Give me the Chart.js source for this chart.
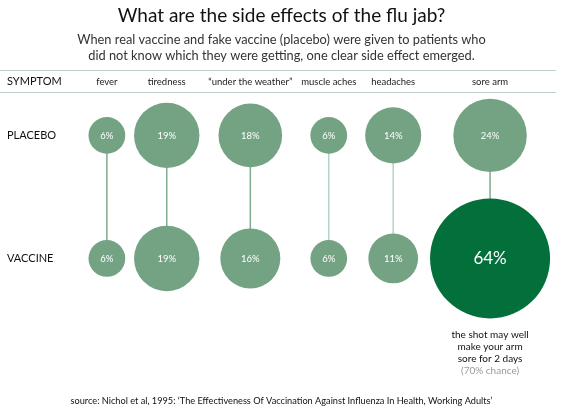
<!DOCTYPE html>
<html>
<head>
<meta charset="utf-8">
<script src="https://cdn.jsdelivr.net/npm/chart.js@4.4.0/dist/chart.umd.min.js"></script>
<style>
  html, body { margin: 0; padding: 0; background: #fff; }
  #wrap { width: 563px; height: 418px; }
</style>
</head>
<body>
<div id="wrap"><canvas id="chart-flu" width="563" height="418"></canvas></div>
<script>
var symptoms = ["fever", "tiredness", "\u201cunder the weather\u201d", "muscle aches", "headaches", "sore arm"];
var groups = ["PLACEBO", "VACCINE"];
var placeboPct = [6, 19, 18, 6, 14, 24];
var vaccinePct = [6, 19, 16, 6, 11, 64];
var noteLines = ["the shot may well", "make your arm", "sore for 2 days"];
var noteChance = "(70% chance)";
var sourceText = "source: Nichol et al, 1995: \u2018The Effectiveness Of Vaccination Against Influenza In Health, Working Adults\u2019";

var lightGreen = "#74a384";
var darkGreen = "#036f3b";
var font = "Lato";
var headFont = "9.5px " + font;

// bubble area grows with the percentage
function radius(v) {
    return 7.5 * Math.sqrt(v);
}

// columns packed side by side, each as wide as its biggest bubble or its label
var measure = document.createElement("canvas").getContext("2d");
measure.font = headFont;
var gap = 8.8;
var colX = [];
var edge = 6.7;
symptoms.forEach(function (s, i) {
    var r = Math.max(radius(placeboPct[i]), radius(vaccinePct[i]));
    var half = Math.max(r, measure.measureText(s).width / 2);
    colX.push(edge + gap + half);
    edge = colX[i] + half;
});

function rowValue(name) {
    return groups.length - 1 - groups.indexOf(name);
}

function bubbles(values, row) {
    return values.map(function (v, i) {
        return { x: colX[i], y: rowValue(row), r: radius(v), pct: v };
    });
}

var placeboData = bubbles(placeboPct, "PLACEBO");
var vaccineData = bubbles(vaccinePct, "VACCINE");

var datasets = [];
symptoms.forEach(function (s, i) {
    datasets.push({
        type: "line",
        data: [placeboData[i], vaccineData[i]],
        borderColor: (i == 3 || i == 4) ? "#b5d4c7" : "#7fab8e",
        borderWidth: 1.5,
        pointRadius: 0,
        fill: false,
        order: 2
    });
});
datasets.push({
    label: "placebo",
    data: placeboData,
    backgroundColor: lightGreen,
    borderWidth: 0,
    order: 1
});
datasets.push({
    label: "vaccine",
    data: vaccineData,
    backgroundColor: vaccineData.map(function (p, i) {
        return (p.pct - placeboPct[i] >= 20) ? darkGreen : lightGreen;
    }),
    borderWidth: 0,
    order: 1
});

var bubbleText = {
    id: "bubbleText",
    afterDatasetsDraw: function (chart) {
        var ctx = chart.ctx;
        ctx.save();
        ctx.fillStyle = "#fff";
        ctx.textAlign = "center";
        ctx.textBaseline = "middle";
        chart.data.datasets.forEach(function (ds, d) {
            if (ds.type == "line") return;
            chart.getDatasetMeta(d).data.forEach(function (el, i) {
                var p = ds.data[i];
                ctx.font = (p.r > 50 ? 17 : 9.5) + "px " + font;
                ctx.fillText(p.pct + "%", el.x, el.y + 0.5);
            });
        });
        ctx.restore();
    }
};

var extras = {
    id: "extras",
    afterDraw: function (chart) {
        var ctx = chart.ctx;
        var xs = chart.scales.x;
        ctx.save();
        // rules above and below the symptom header
        ctx.strokeStyle = "#bccfc4";
        ctx.lineWidth = 1;
        [xs.top, xs.bottom].forEach(function (y) {
            ctx.beginPath();
            ctx.moveTo(0, Math.round(y) + 0.5);
            ctx.lineTo(556, Math.round(y) + 0.5);
            ctx.stroke();
        });
        ctx.fillStyle = "#111";
        ctx.font = "11px " + font;
        ctx.textBaseline = "middle";
        ctx.textAlign = "left";
        ctx.fillText("SYMPTOM", chart.scales.y.left, (xs.top + xs.bottom) / 2);

        // note under the big sore arm bubble
        var meta = chart.getDatasetMeta(chart.data.datasets.length - 1);
        var last = meta.data[meta.data.length - 1];
        var ds = chart.data.datasets[chart.data.datasets.length - 1];
        var top = last.y + ds.data[ds.data.length - 1].r + 16.5;
        ctx.textAlign = "center";
        ctx.font = "10px " + font;
        noteLines.forEach(function (t, i) {
            ctx.fillText(t, last.x, top + i * 12.1);
        });
        ctx.fillStyle = "#9a9a9a";
        ctx.fillText(noteChance, last.x, top + noteLines.length * 12.1);

        // source line
        ctx.fillStyle = "#111";
        ctx.font = "9.2px " + font;
        ctx.fillText(sourceText, chart.width / 2, 401);
        ctx.restore();
    }
};

new Chart("chart-flu", {
    type: "bubble",
    data: { datasets: datasets },
    plugins: [bubbleText, extras],
    options: {
        responsive: false,
        animation: false,
        events: [],
        layout: { autoPadding: false, padding: { left: 7, right: 7, top: 0, bottom: 0 } },
        plugins: {
            legend: { display: false },
            tooltip: { enabled: false },
            title: {
                display: true,
                text: "What are the side effects of the flu jab?",
                color: "#111",
                font: { family: font, size: 19, weight: "normal" },
                padding: { top: 4, bottom: 3 }
            },
            subtitle: {
                display: true,
                text: ["When real vaccine and fake vaccine (placebo) were given to patients who",
                       "did not know which they were getting, one clear side effect emerged."],
                color: "#333",
                font: { family: font, size: 12.8, lineHeight: 1.27 },
                padding: { top: 2, bottom: 6 }
            }
        },
        scales: {
            x: {
                type: "linear",
                position: "top",
                min: 0,
                max: 483,
                grid: { display: false, drawTicks: false },
                border: { display: false },
                afterFit: function (scale) { scale.height = 22; },
                afterBuildTicks: function (scale) {
                    scale.ticks = colX.map(function (v) { return { value: v }; });
                },
                ticks: {
                    autoSkip: false,
                    maxRotation: 0,
                    minRotation: 0,
                    padding: 5,
                    color: "#222",
                    font: { family: font, size: 9.5 },
                    callback: function (value, index) { return symptoms[index]; }
                }
            },
            y: {
                type: "linear",
                min: -1.243,
                max: 1.35,
                grid: { display: false, drawTicks: false },
                border: { display: false },
                afterFit: function (scale) { scale.width = 66; },
                afterBuildTicks: function (scale) {
                    scale.ticks = groups.map(function (g) { return { value: rowValue(g) }; });
                },
                ticks: {
                    crossAlign: "far",
                    padding: 0,
                    color: "#111",
                    font: { family: font, size: 11 },
                    callback: function (value) { return groups[groups.length - 1 - value]; }
                }
            }
        }
    }
});
</script>
</body>
</html>
